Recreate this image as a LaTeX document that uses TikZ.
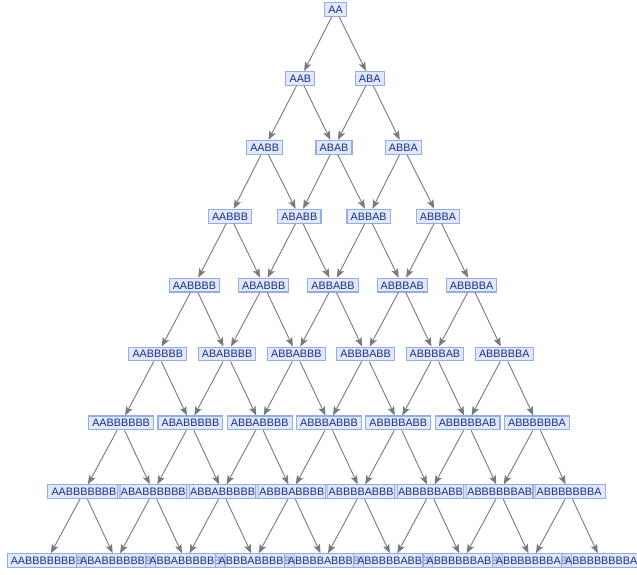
\documentclass[tikz,border=0pt]{standalone}
\usepackage{fontspec}
\setmainfont{Liberation Sans}
\usetikzlibrary{arrows.meta}

\definecolor{wordfill}{RGB}{196,210,245}
\definecolor{wordline}{RGB}{150,172,230}
\definecolor{wordtext}{RGB}{25,48,130}
\definecolor{edgegray}{RGB}{122,122,122}

% B repeated #1 times
\newcommand\Bs[1]{\ifnum\numexpr#1\relax>0 B\expandafter\Bs\expandafter{\the\numexpr#1-1\relax}\fi}

\tikzset{
	word/.style = {draw = wordline, fill = wordfill, fill opacity = 0.5, draw opacity = 1, text opacity = 1,
		line width = 1.1pt, text = wordtext, font = \fontsize{10.8}{11}\selectfont,
		inner xsep = 3.6pt, inner ysep = 3pt, text height = 7.8pt, text depth = 0pt},
	edge/.style = {draw = edgegray, line width = 0.9pt, -{Stealth[length = 9pt, width = 7pt, inset = 2pt]}}
}

\begin{document}
\begin{tikzpicture}[x = 1pt, y = -1pt]
\useasboundingbox (0,0) rectangle (637,575);
\foreach \n / \c in {0/335.5,1/335,2/334,3/334,4/333,5/331,6/329,7/326.5,8/324} {
	\foreach \j in {0,...,\n} {
		\node[word] (w\n-\j) at ({\c+69.3*(\j-\n/2)}, {9.5+68.9*\n}) {A\Bs{\j}A\Bs{\n-\j}};
	}
}
\foreach \n in {0,...,7} {
	\foreach \j in {0,...,\n} {
		\pgfmathtruncatemacro\m{\n+1}
		\pgfmathtruncatemacro\k{\j+1}
		\draw[edge] (w\n-\j) -- (w\m-\j);
		\draw[edge] (w\n-\j) -- (w\m-\k);
	}
}
\end{tikzpicture}
\end{document}
